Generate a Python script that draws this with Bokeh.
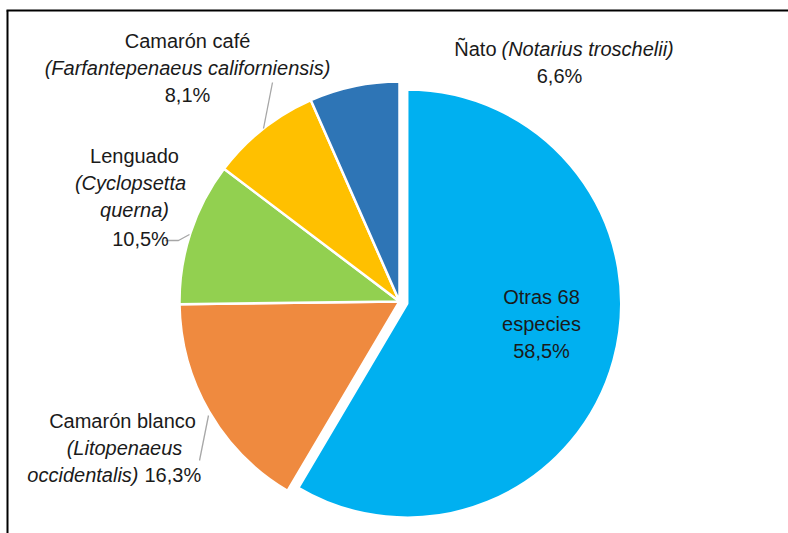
import numpy as np
from bokeh.plotting import figure
from bokeh.models import Range1d
from bokeh.core.properties import value
from bokeh.embed import file_html
from bokeh.resources import INLINE

# ---- data ----
species = ["Otras 68 especies", "Camarón blanco", "Lenguado", "Camarón café", "Ñato"]
percent = [58.5, 16.3, 10.5, 8.1, 6.6]
colors = ["#00B0F0", "#EF8A3F", "#92D050", "#FFC000", "#2E75B6"]

def pct(v):
    return f"{v:.1f}%".replace(".", ",")

# ---- layout (page pixel coordinates, y downward) ----
W, H = 788, 533
CX, CY = 399, 301
radii = [214, 220, 220, 220, 220]
explode = [8, 0, 0, 0, 0]
FONT = value("Liberation Sans")
FS = "20px"
TXT = "#1a1a1a"

p = figure(width=W, height=H, x_range=Range1d(0, W), y_range=Range1d(-H, 0),
           output_backend="svg", toolbar_location=None, min_border=0,
           x_axis_location=None, y_axis_location=None)
p.grid.visible = False
p.outline_line_color = None
p.background_fill_color = "white"

# ---- pie ----
cum = np.cumsum([0] + percent)
for i, v in enumerate(percent):
    a0 = 90 - 3.6 * cum[i]
    a1 = 90 - 3.6 * cum[i + 1]
    mid = np.radians((a0 + a1) / 2)
    cx = CX + explode[i] * np.cos(mid)
    cy = -CY + explode[i] * np.sin(mid)
    p.wedge(x=[cx], y=[cy], radius=radii[i], start_angle=[np.radians(a1)], end_angle=[np.radians(a0)],
            direction="anticlock", fill_color=colors[i], line_color="white", line_width=2.5)

# ---- leader lines ----
lc = "#A6A6A6"
p.line([272, 263], [-82, -128], line_color=lc, line_width=1.3)
p.line([165, 178, 189], [-240, -240, -234], line_color=lc, line_width=1.3)
p.line([208, 199], [-415, -460], line_color=lc, line_width=1.3)

# ---- frame lines ----
p.line([6, W], [-10, -10], line_color="black", line_width=2)
p.line([7, 7], [-10, -H], line_color="black", line_width=2)

def txt(x, y, s, align="center", style="normal"):
    p.text(x=[x], y=[-y], text=[s], text_font=FONT, text_font_size=FS, text_color=TXT,
           text_align=align, text_baseline="middle", text_font_style=style)

# Camarón café
txt(187, 40, species[3])
txt(187, 67, "(Farfantepenaeus californiensis)", style="italic")
txt(187, 94, pct(percent[3]))

# Ñato
txt(496, 48, species[4], align="right")
txt(501, 48, "(Notarius troschelii)", align="left", style="italic")
txt(559, 75, pct(percent[4]))

# Lenguado
txt(134, 155, species[2])
txt(130, 182, "(Cyclopsetta", style="italic")
txt(134, 209, "querna)", style="italic")
txt(140, 238, pct(percent[2]))

# Otras
txt(541, 296, "Otras 68")
txt(541, 323, "especies")
txt(541, 350, pct(percent[0]))

# Camarón blanco
txt(122, 420, species[1])
txt(124, 447, "(Litopenaeus", style="italic")
txt(138, 474, "occidentalis)", align="right", style="italic")
txt(144, 474, pct(percent[1]), align="left")

open("out.html", "w").write(file_html(p, INLINE))
